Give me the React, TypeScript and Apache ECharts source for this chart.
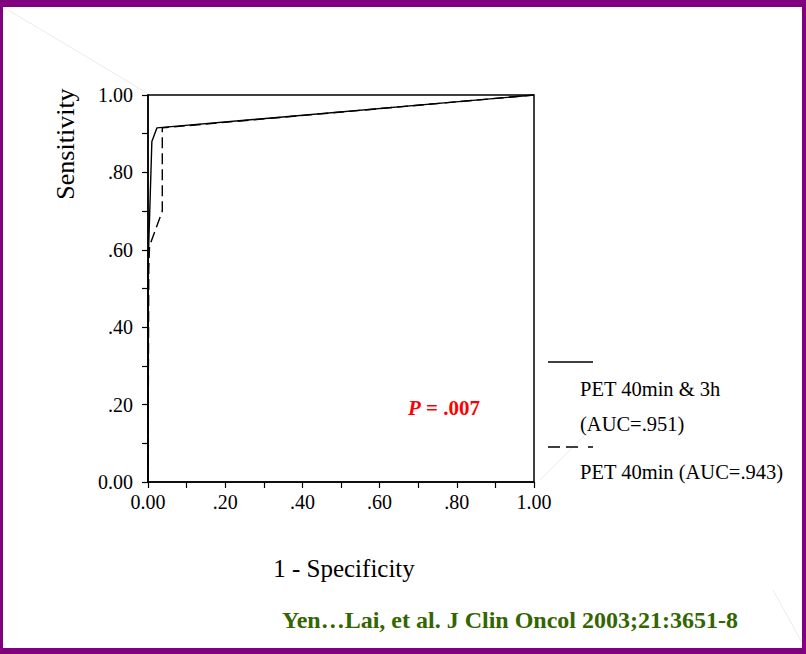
import React, { useEffect, useRef } from "react";
import * as echarts from "echarts";

const xTicks = [0, 0.2, 0.4, 0.6, 0.8, 1.0];
const tickLabels = ["0.00", ".20", ".40", ".60", ".80", "1.00"];
const combinedCurve: [number, number][] = [
  [0, 0], [0, 0.55], [0.01, 0.88], [0.023, 0.915], [1, 1],
];
const fortyMinCurve: [number, number][] = [
  [0, 0], [0.002, 0.55], [0.004, 0.61], [0.037, 0.70], [0.037, 0.915], [1, 1],
];
const legendNames = ["PET 40min & 3h", "(AUC=.951)", "PET 40min (AUC=.943)"];
const pText = ".007";
const citation = "Yen\u2026Lai, et al. J Clin Oncol 2003;21:3651-8";

const SERIF = "'Liberation Serif', 'Times New Roman', serif";

function fmt(v: number) {
  const i = xTicks.findIndex((t) => Math.abs(t - v) < 1e-6);
  return i >= 0 ? tickLabels[i] : "";
}

export default function App() {
  const ref = useRef<HTMLDivElement>(null);
  useEffect(() => {
    if (!ref.current) return;
    const chart = echarts.init(ref.current, null, { renderer: "svg" });
    const axisCommon = {
      type: "value" as const,
      min: 0,
      max: 1,
      interval: 0.2,
      axisLine: { show: true, lineStyle: { color: "#000", width: 1.5 } },
      axisTick: { show: true, length: 6, inside: false, lineStyle: { color: "#000", width: 1.2 } },
      minorTick: { show: true, splitNumber: 2, length: 6, lineStyle: { color: "#000", width: 1.2 } },
      splitLine: { show: false },
      axisLabel: {
        formatter: (v: number) => fmt(v),
        fontFamily: SERIF,
        fontSize: 20,
        color: "#000",
      },
    };
    chart.setOption({
      animation: false,
      backgroundColor: "#fff",
      grid: {
        left: 148,
        top: 95,
        right: 272,
        bottom: 172,
        show: true,
        borderColor: "#000",
        borderWidth: 1.5,
        backgroundColor: "transparent",
      },
      xAxis: { ...axisCommon, axisLabel: { ...axisCommon.axisLabel, margin: 10 } },
      yAxis: { ...axisCommon, axisLabel: { ...axisCommon.axisLabel, margin: 15 } },
      series: [
        {
          type: "line",
          name: legendNames[0],
          data: combinedCurve,
          showSymbol: false,
          symbol: "none",
          lineStyle: { color: "#000", width: 1.4, type: "solid" },
        },
        {
          type: "line",
          name: legendNames[2],
          data: fortyMinCurve,
          showSymbol: false,
          symbol: "none",
          lineStyle: { color: "#000", width: 1.4, type: [11, 5] },
        },
      ],
      graphic: [
        // slide decoration lines (faint)
        { type: "line", shape: { x1: 3, y1: 7, x2: 147, y2: 93 }, style: { stroke: "#ececec", lineWidth: 1 }, silent: true },
        { type: "line", shape: { x1: 540, y1: 480, x2: 600, y2: 420 }, style: { stroke: "#ececec", lineWidth: 1 }, silent: true },
        { type: "line", shape: { x1: 773, y1: 590, x2: 805, y2: 648 }, style: { stroke: "#ececec", lineWidth: 1 }, silent: true },
        // purple frame
        { type: "rect", shape: { x: 0, y: 0, width: 806, height: 7 }, style: { fill: "#800080" } },
        { type: "rect", shape: { x: 0, y: 648, width: 806, height: 6 }, style: { fill: "#800080" } },
        { type: "rect", shape: { x: 0, y: 0, width: 3, height: 654 }, style: { fill: "#800080" } },
        { type: "rect", shape: { x: 802, y: 0, width: 4, height: 654 }, style: { fill: "#800080" } },
        // axis titles
        {
          type: "text",
          x: 65,
          y: 144,
          rotation: Math.PI / 2,
          style: { text: "Sensitivity", font: `26px ${SERIF}`, fill: "#000", align: "center", verticalAlign: "middle" },
        },
        {
          type: "text",
          x: 344,
          y: 568,
          style: { text: "1 - Specificity", font: `25px ${SERIF}`, fill: "#000", align: "center", verticalAlign: "middle" },
        },
        // legend
        { type: "line", shape: { x1: 548, y1: 362, x2: 593, y2: 362 }, style: { stroke: "#000", lineWidth: 1.4 } },
        { type: "text", x: 580, y: 389, style: { text: legendNames[0], font: `20.5px ${SERIF}`, fill: "#000", verticalAlign: "middle" } },
        { type: "text", x: 580, y: 424, style: { text: legendNames[1], font: `20.5px ${SERIF}`, fill: "#000", verticalAlign: "middle" } },
        { type: "line", shape: { x1: 548, y1: 447, x2: 593, y2: 447 }, style: { stroke: "#000", lineWidth: 1.4, lineDash: [12, 6, 12, 10] } },
        { type: "text", x: 580, y: 472, style: { text: legendNames[2], font: `20.5px ${SERIF}`, fill: "#000", verticalAlign: "middle" } },
        // P value
        {
          type: "text",
          x: 408,
          y: 408,
          style: {
            text: "{i|P} {b|= " + pText + "}",
            verticalAlign: "middle",
            rich: {
              i: { fontFamily: SERIF, fontSize: 21, fontWeight: "bold", fontStyle: "italic", fill: "#ff0000" },
              b: { fontFamily: SERIF, fontSize: 21, fontWeight: "bold", fill: "#ff0000" },
            },
            fill: "#ff0000",
            font: `bold 21px ${SERIF}`,
          },
        },
        // citation
        {
          type: "text",
          x: 738,
          y: 620,
          style: { text: citation, font: `bold 24px ${SERIF}`, fill: "#336600", align: "right", verticalAlign: "middle" },
        },
      ],
    });
    return () => chart.dispose();
  }, []);
  return (
    <div
      ref={ref}
      style={{ position: "fixed", left: 0, top: 0, width: 806, height: 654, background: "#fff" }}
    />
  );
}
